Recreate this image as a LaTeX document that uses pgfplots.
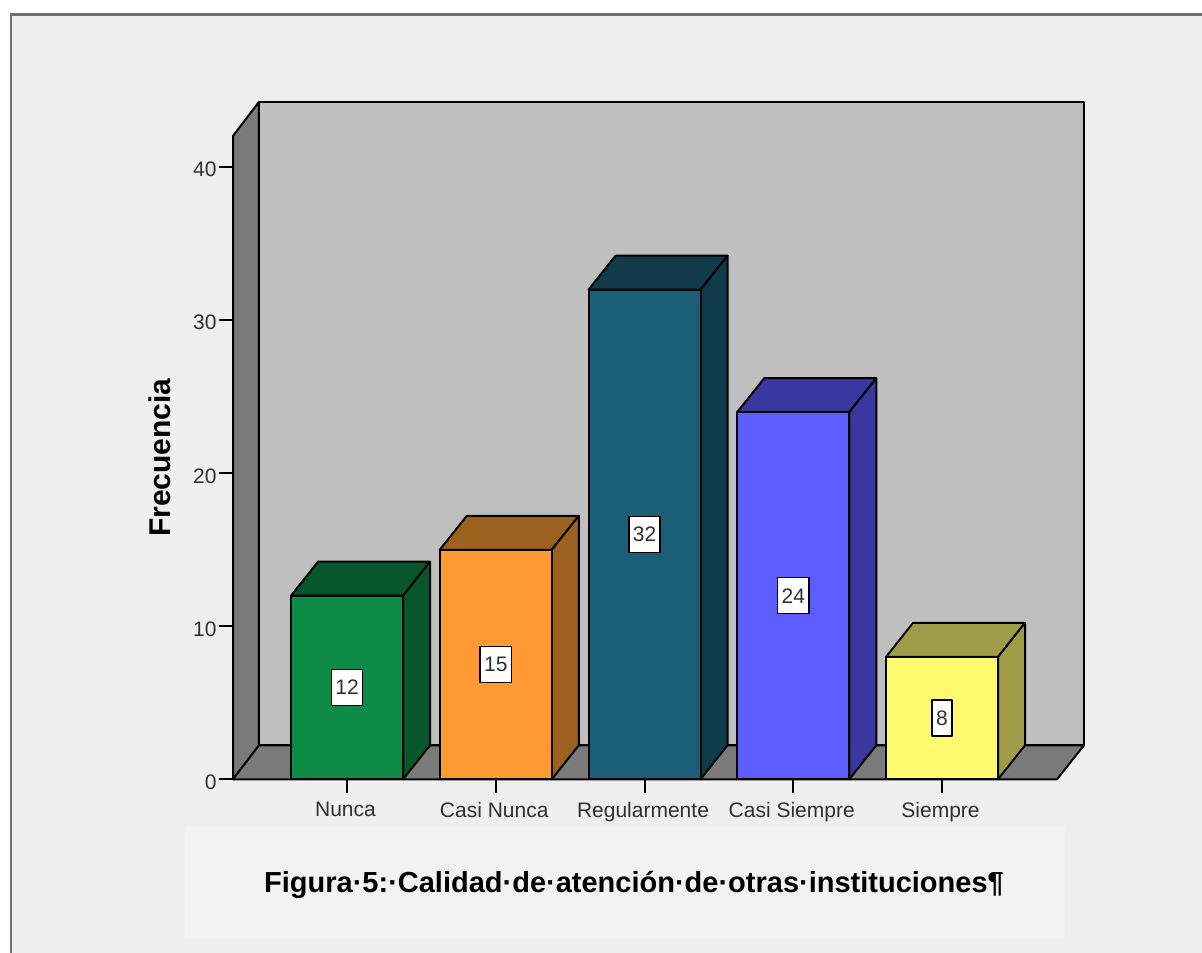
\documentclass[border=0pt]{standalone}
\usepackage{pgfplots}
\pgfplotsset{compat=1.18}
\usepackage{fontspec}
\setmainfont{Liberation Sans}
\definecolor{panel}{HTML}{EFEFEF}
\definecolor{capbox}{HTML}{F2F2F2}
\definecolor{framegray}{HTML}{707070}
\definecolor{wall}{HTML}{BFBFBF}
\definecolor{floorgray}{HTML}{7A7A7A}
\definecolor{inktext}{HTML}{303030}
\definecolor{greenF}{HTML}{0E8B46}
\definecolor{greenD}{HTML}{07562B}
\definecolor{orangeF}{HTML}{FF9933}
\definecolor{orangeD}{HTML}{9C601F}
\definecolor{tealF}{HTML}{1B5E78}
\definecolor{tealD}{HTML}{113B4B}
\definecolor{blueF}{HTML}{5C5CFF}
\definecolor{blueD}{HTML}{3838A0}
\definecolor{yellowF}{HTML}{FFFA70}
\definecolor{yellowD}{HTML}{9E9C46}
\begin{document}
\begin{tikzpicture}[x=1pt,y=1pt]
\path[use as bounding box] (0,0) rectangle (1202,953);
\fill[white] (0,0) rectangle (1202,953);
\fill[panel] (11,0) rectangle (1202,938);
\draw[framegray,line width=2.4pt] (11,0) -- (11,938.5) -- (1202,938.5);
\fill[capbox] (185,15) rectangle (1065,126);
\begin{axis}[
  at={(233pt,173.7pt)}, anchor=south west,
  scale only axis, width=824pt, height=643.4pt,
  xmin=-0.7664, xmax=4.7731, ymin=0, ymax=42.05,
  clip=false,
  axis x line*=bottom, axis y line*=left,
  axis line style={black,line width=2.2pt},
  tick align=outside,
  major tick length=14pt,
  tick style={black,line width=2pt},
  xtick={0,1,2,3,4},
  xticklabels={Nunca,Casi Nunca,Regularmente,Casi Siempre,Siempre},
  ytick={0,10,20,30,40},
  /pgf/number format/assume math mode=true,
  tick label style={font=\fontsize{21}{25}\selectfont,text=inktext},
  xticklabel style={yshift=-5pt,xshift=-1.5pt},
  yticklabel style={yshift=-2.5pt,xshift=1pt},
  ylabel={\textbf{Frecuencia}},
  ylabel style={at={(axis description cs:-0.0885,0.5)},anchor=center,
    font=\fontsize{30}{34}\selectfont,text=black},
  every axis plot/.append style={line width=2pt,draw=black,line join=round},
]
% back wall, side wall and floor of the box
\addplot[fill=wall] coordinates {(-0.5919,2.22) (4.9546,2.22) (4.9546,44.27) (-0.5919,44.27)} --cycle;
\addplot[fill=floorgray] coordinates {(-0.7664,0) (-0.5919,2.22) (-0.5919,44.27) (-0.7664,42.05)} --cycle;
\addplot[fill=floorgray] coordinates {(-0.7664,0) (4.7731,0) (4.9546,2.22) (-0.5919,2.22)} --cycle;

% Nunca = 12
\addplot[fill=greenD] coordinates {(-0.3765,12) (0.3765,12) (0.558,14.22) (-0.195,14.22)} --cycle;
\addplot[fill=greenD] coordinates {(0.3765,0) (0.558,2.22) (0.558,14.22) (0.3765,12)} --cycle;
\addplot[ybar,bar width=112pt,bar shift=0pt,fill=greenF] coordinates {(0,12)};
% Casi Nunca = 15
\addplot[fill=orangeD] coordinates {(0.6235,15) (1.3765,15) (1.558,17.22) (0.805,17.22)} --cycle;
\addplot[fill=orangeD] coordinates {(1.3765,0) (1.558,2.22) (1.558,17.22) (1.3765,15)} --cycle;
\addplot[ybar,bar width=112pt,bar shift=0pt,fill=orangeF] coordinates {(1,15)};
% Regularmente = 32
\addplot[fill=tealD] coordinates {(1.6235,32) (2.3765,32) (2.558,34.22) (1.805,34.22)} --cycle;
\addplot[fill=tealD] coordinates {(2.3765,0) (2.558,2.22) (2.558,34.22) (2.3765,32)} --cycle;
\addplot[ybar,bar width=112pt,bar shift=0pt,fill=tealF] coordinates {(2,32)};
% Casi Siempre = 24
\addplot[fill=blueD] coordinates {(2.6235,24) (3.3765,24) (3.558,26.22) (2.805,26.22)} --cycle;
\addplot[fill=blueD] coordinates {(3.3765,0) (3.558,2.22) (3.558,26.22) (3.3765,24)} --cycle;
\addplot[ybar,bar width=112pt,bar shift=0pt,fill=blueF] coordinates {(3,24)};
% Siempre = 8
\addplot[fill=yellowD] coordinates {(3.6235,8) (4.3765,8) (4.558,10.22) (3.805,10.22)} --cycle;
\addplot[fill=yellowD] coordinates {(4.3765,0) (4.558,2.22) (4.558,10.22) (4.3765,8)} --cycle;
\addplot[ybar,bar width=112pt,bar shift=0pt,fill=yellowF] coordinates {(4,8)};

% value labels at half of each bar's height
\addplot[only marks,mark=none,draw=none,
  point meta=explicit symbolic,
  nodes near coords,
  nodes near coords align={anchor=center},
  every node near coord/.style={anchor=center,fill=white,draw=black,line width=1.4pt,
    inner xsep=4pt,inner ysep=0pt,minimum height=36pt,
    font=\fontsize{21}{25}\selectfont,text=inktext},
] coordinates {(0,6)[12] (1,7.5)[15] (2,16)[32] (3,12)[24] (4,4)[8]};
\end{axis}
\node[font=\bfseries\fontsize{29}{34}\selectfont,text=black,anchor=center] at (634,68)
  {Figura·5:·Calidad·de·atención·de·otras·instituciones¶};
\end{tikzpicture}
\end{document}
